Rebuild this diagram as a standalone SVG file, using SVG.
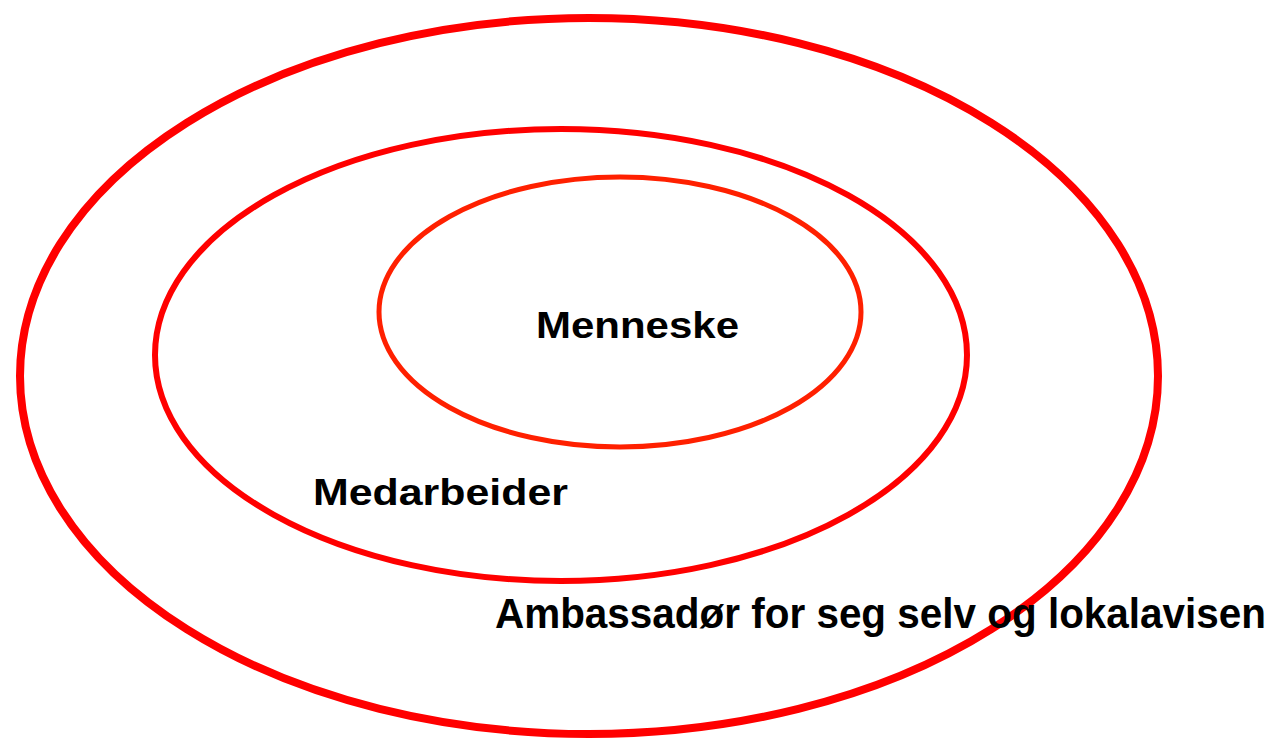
<svg xmlns="http://www.w3.org/2000/svg" width="1276" height="742" viewBox="0 0 1276 742">
<style>
.ring{fill:none}
.lbl{font-family:"Liberation Sans",Arial,sans-serif;font-weight:bold;fill:#000}
</style>
<rect width="1276" height="742" fill="#fff"/>
<g id="outer"><ellipse class="ring" cx="589" cy="376" rx="569" ry="358" stroke="#ff0000" stroke-width="8"/></g>
<g id="middle"><ellipse class="ring" cx="561" cy="355" rx="406" ry="226" stroke="#ff0000" stroke-width="6"/></g>
<g id="inner"><ellipse class="ring" cx="620" cy="312" rx="241" ry="135" stroke="#ff2000" stroke-width="5"/></g>
<g id="connectors"/>
<g id="labels">
<text class="lbl" x="536" y="338" font-size="37" textLength="203" lengthAdjust="spacingAndGlyphs">Menneske</text>
<text class="lbl" x="313" y="505" font-size="37" textLength="255" lengthAdjust="spacingAndGlyphs">Medarbeider</text>
<text class="lbl" x="495" y="628" font-size="43" textLength="771" lengthAdjust="spacingAndGlyphs">Ambassadør for seg selv og lokalavisen</text>
</g>
</svg>
